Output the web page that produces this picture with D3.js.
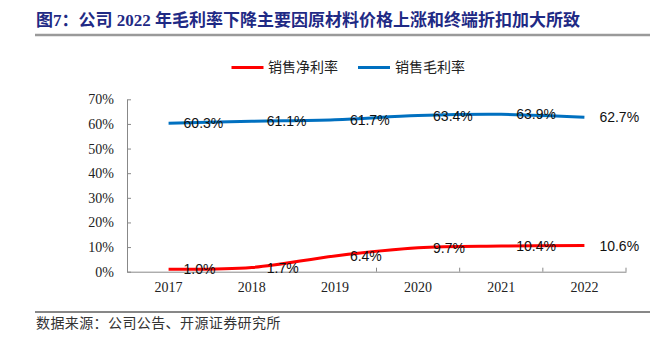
<!DOCTYPE html>
<html><head><meta charset="utf-8">
<script src="https://cdn.jsdelivr.net/npm/d3@7"></script>
<style>body{margin:0;background:#fff}svg{display:block}</style>
</head><body>
<svg id="c" width="671" height="339"></svg>
<script>
const years = ["2017","2018","2019","2020","2021","2022"];
const netMargin = [1.0, 1.7, 6.4, 9.7, 10.4, 10.6];
const grossMargin = [60.3, 61.1, 61.7, 63.4, 63.9, 62.7];
const yTicks = [0,10,20,30,40,50,60,70];
const seriesNames = ["销售净利率","销售毛利率"];
const colors = ["#FF0000","#0070C0"];
const title = "图7：公司 2022 年毛利率下降主要因原材料价格上涨和终端折扣加大所致";
const source = "数据来源：公司公告、开源证券研究所";

const svg = d3.select("#c");
const x = d3.scaleBand().domain(years).range([127, 626]).padding(0);
const y = d3.scaleLinear().domain([0,70]).range([271.7, 99.3]);

// title
svg.append("text").attr("x",36).attr("y",22).attr("dominant-baseline","middle")
  .attr("font-family","'Liberation Serif','Noto Sans CJK SC'").attr("font-weight","bold")
  .attr("font-size",17).attr("fill","#1F2A85").text(title);
svg.append("line").attr("x1",35).attr("x2",650).attr("y1",35).attr("y2",35)
  .attr("stroke","#9a9a9a").attr("stroke-width",2.5);

// legend
const lg = [[231.5,268],[358,395]];
seriesNames.forEach((n,i)=>{
  svg.append("line").attr("x1",lg[i][0]).attr("x2",lg[i][0]+32).attr("y1",67.5).attr("y2",67.5)
    .attr("stroke",colors[i]).attr("stroke-width",3);
  svg.append("text").attr("x",lg[i][1]).attr("y",68).attr("dominant-baseline","middle")
    .attr("font-family","'Noto Sans CJK SC'").attr("font-size",14).attr("fill","#222").text(n);
});

// y axis
const yAxis = d3.axisLeft(y).tickValues(yTicks).tickFormat(d=>d+"%").tickSizeInner(-4).tickSizeOuter(0).tickPadding(13);
const gy = svg.append("g").attr("transform","translate(127,0)").call(yAxis);
gy.selectAll("path,line").attr("stroke","#888");
gy.selectAll("text").attr("font-family","'Liberation Serif'").attr("font-size",14).attr("fill","#222");

// x axis
const xAxis = d3.axisBottom(x).tickSize(0).tickPadding(10);
const gx = svg.append("g").attr("transform","translate(0,271.7)").call(xAxis);
gx.select("path").attr("stroke","#888");
gx.selectAll("text").attr("font-family","'Liberation Serif'").attr("font-size",14).attr("fill","#222").attr("dy","0.75em");
// boundary ticks (inward)
const bounds = years.map(d=>x(d)).concat([x.range()[1]]);
gx.selectAll("line.b").data(bounds.slice(1)).enter().append("line").attr("class","b")
  .attr("x1",d=>d).attr("x2",d=>d).attr("y1",0).attr("y2",-4).attr("stroke","#888");

// lines
const cx = d=>x(d)+x.bandwidth()/2;
const line = d3.line().x((d,i)=>cx(years[i])).y(d=>y(d)).curve(d3.curveCatmullRom.alpha(0.5));
[netMargin, grossMargin].forEach((s,i)=>{
  svg.append("path").attr("d",line(s)).attr("fill","none").attr("stroke",colors[i]).attr("stroke-width",3);
});
// labels
[netMargin, grossMargin].forEach((s,i)=>{
  svg.append("g").selectAll("text").data(s).enter().append("text")
    .attr("x",(d,j)=>cx(years[j])+15).attr("y",d=>y(d)).attr("dy","0.36em")
    .attr("font-family","'Liberation Sans'").attr("font-size",14).attr("fill","#111")
    .text(d=>d.toFixed(1)+"%");
});

// bottom
svg.append("line").attr("x1",35).attr("x2",650).attr("y1",312).attr("y2",312).attr("stroke","#111").attr("stroke-width",1);
svg.append("text").attr("x",36).attr("y",324).attr("dominant-baseline","middle")
  .attr("font-family","'Noto Sans CJK SC'").attr("font-size",14).attr("letter-spacing","0.4")
  .attr("fill","#333").text(source);
</script>
</body></html>
